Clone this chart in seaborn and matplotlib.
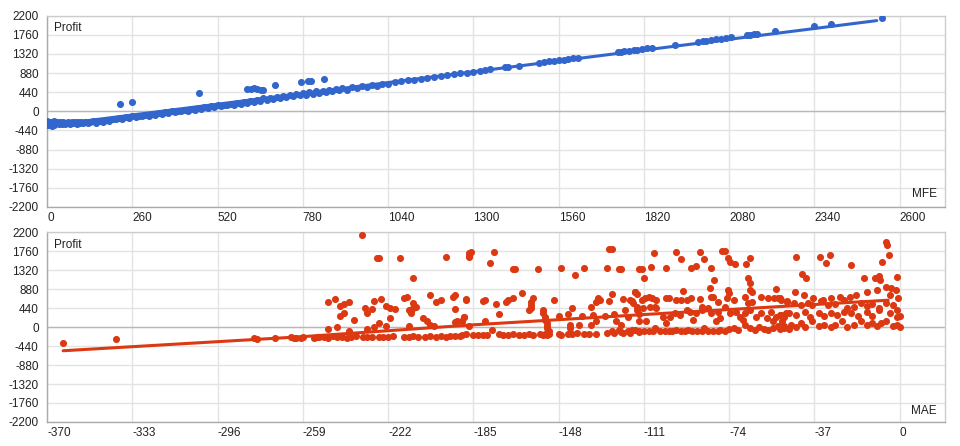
import numpy as np
import pandas as pd
import matplotlib
matplotlib.use('Agg')
import matplotlib.pyplot as plt
import seaborn as sns

# ------------------------------------------------------------------
# data
# ------------------------------------------------------------------

# top panel: MFE vs Profit
mfe = [0, 0, 3, 5, 8, 10, 12, 15, 18, 20, 22, 25, 30, 35, 40, 45, 50, 55, 60, 65,
       70, 75, 80, 85, 90, 95, 100, 105, 110, 115, 120, 125, 130,
       140, 150, 160, 170, 180, 190, 200, 210, 220, 230, 240, 250, 260, 270, 280, 290,
       300, 310, 320, 330, 340, 350, 360, 370, 380, 390, 400, 410, 420, 430, 440, 450,
       460, 470, 480, 490, 500, 510, 520, 530, 540, 550, 560, 570, 580, 590, 600, 610,
       620, 630, 640, 650, 660, 670, 680, 690, 700, 710, 720, 730, 740, 750, 760, 770,
       780, 790, 800, 810, 820, 830, 840, 850, 860, 870, 880, 890, 900, 915, 930, 945,
       960, 975, 990, 1005, 1020, 1040, 1060, 1080, 1100, 1120, 1140, 1160, 1180, 1200,
       1220, 1240, 1260, 1280, 1300,
       1320, 1335, 1350, 1395, 1405, 1440, 1500, 1515, 1530, 1545, 1560, 1575, 1590,
       1605, 1620, 1740, 1750, 1760, 1775, 1790, 1800, 1815, 1830, 1845, 1915, 1985,
       2000, 2010, 2025, 2040, 2055, 2070, 2085, 2135, 2145, 2155, 2165, 2220, 2340,
       2390, 2545,
       223, 260, 464, 611, 621, 631, 641, 652, 658, 695, 774, 795, 805, 845]
mfe_profit = [-230, -310, -265, -325, -240, -300, -255, -340, -285, -235, -305, -260, -245,
              -295, -255, -285, -245, -290, -260, -250, -290, -255, -280, -250, -285, -255,
              -275, -245, -280, -255, -250, -278, -252,
              -235, -265, -215, -250, -190, -220, -180, -185, -160, -175, -140, -150, -120,
              -140, -100, -115, -85, -100, -65, -85, -45, -60, -25, -40, -5, -20, 15, -5, 35,
              15, 55, 35, 75, 55, 95, 75, 115, 95, 135, 115, 155, 135, 175, 155, 195, 175,
              215, 190, 235, 215, 262, 245, 295, 265, 315, 285, 335, 305, 355, 325, 375,
              345, 395, 365, 415, 385, 435, 405, 455, 425, 475, 445, 495, 465, 515, 485,
              535, 500, 550, 525, 570, 560, 600, 590, 630, 630, 670, 690, 710, 730, 750,
              770, 790, 810, 830, 850, 870, 890, 910,
              935, 950, 965, 1010, 1020, 1050, 1115, 1130, 1145, 1160, 1175, 1190, 1200,
              1220, 1235, 1355, 1365, 1375, 1390, 1405, 1415, 1430, 1445, 1460, 1530, 1600,
              1615, 1625, 1640, 1655, 1670, 1685, 1700, 1750, 1760, 1770, 1780, 1845, 1960,
              2010, 2150,
              166, 203, 419, 515, 520, 525, 510, 495, 490, 594, 673, 696, 696, 749]
mfe_trend = [0, 2530]
mfe_trend_profit = [-334, 2085]

# bottom panel: MAE vs Profit
mae = [-363, -340, -280, -279, -271, -263, -260, -254, -252,
       # upper / middle part, left
       -233.5, -227, -226, -217, -211, -197, -187, -187,
       -248, -245, -243, -241, -239, -243, -241, -237, -248, -244, -239,
       -232, -231, -229, -228, -225, -223, -221, -219, -221, -226, -228, -231, -223,
       -215, -214, -213, -211, -211, -210, -212, -212, -207, -205, -213, -204, -204,
       -202, -201, -199, -194, -193, -193, -193, -192, -190, -189, -188, -187,
       # lower band, left
       -264, -262, -259, -253, -250, -248, -246, -244, -242, -240, -238, -236, -233,
       -231, -229, -226, -224, -222, -220, -215, -213, -211, -209, -206, -204, -201,
       -199, -197, -195, -193, -191,
       # upper, centre-left
       -186, -187, -176, -178, -168, -167, -157, -147, -141, -137, -127, -126, -125,
       -122, -121, -113,
       -188, -181, -180, -175, -174, -189, -190, -180, -171, -170, -168, -164, -161,
       -160, -160, -159, -160, -155, -155, -154, -154, -153, -153, -153, -152, -150,
       -148, -144, -143, -142, -138, -139, -143, -134, -133, -132, -131, -131, -130,
       -134, -132, -128, -126, -125, -124, -123, -121, -120, -119, -118, -116, -115,
       -114, -113, -113,
       # lower band, centre-left
       -190, -188, -185, -183, -181, -179, -177, -174, -172, -170, -168, -165, -163,
       -161, -159, -156, -155, -154, -153, -152, -148, -147, -144, -142, -140, -137,
       -135, -132, -127, -125, -124, -122, -121, -120, -118, -117, -115, -113,
       # upper, centre-right
       -106.6, -97, -95, -86.8, -85, -77, -76, -74.5, -73.5, -71.6, -66.8, -65, -112,
       -108, -111, -101.6, -90.7, -88.5, -82, -80.6, -65.8, -64.8, -65, -64, -82.4,
       -81.7, -74.5, -74, -94, -115, -114, -117, -115.7, -112, -110.6, -109, -107.7,
       -106.3, -105.6, -101.5, -100, -97, -94.7, -92.5, -90.4, -86.8, -86, -81, -79,
       -75, -72, -67, -65.8, -64.3, -60, -57, -54.7, -53.5, -52.8, -51.3, -49,
       -114.2, -111.3, -108.5, -105.6, -102.7, -99.8, -97.6, -95.4, -92.5, -91.1,
       -88.2, -86, -83.1, -81.7, -78.8, -78.1, -75.9, -73.8, -70.9, -69.4, -67.3,
       -65.1, -62.2, -60, -57.8, -55.7, -53.5, -51.3, -49.2,
       -110, -101.3, -89.7, -79.5, -68, -55,
       # lower band, centre-right
       -116, -113, -111, -109, -107, -106, -104, -102, -100, -99, -97, -95, -93, -92,
       -90, -88, -86, -85, -83, -81, -79, -78, -76, -74, -72, -70, -67, -65, -63, -61,
       -59, -57, -55, -53, -52, -50, -48,
       # right end
       -52, -49, -46, -43, -40, -38, -34, -31, -28, -24, -23, -20, -17, -14, -12, -9,
       -6, -3, -1,
       -52, -50, -48, -45, -41, -39, -35, -33, -30, -27, -24, -21, -18, -14, -12, -9,
       -4, -1, 0,
       -51, -50, -47, -45, -43, -41, -38, -35, -33, -30, -28, -25, -23, -20, -17, -14,
       -12, -10, -8, -6, -3, -1, 0,
       -45.6, -41.6, -37.6, -33.3, -29.6, -26, -21.7, -18.8, -14.2, -9.8, -4.3, -0.7,
       -5.8, -5.5, -4.8, -7.5, -45, -34.7, -30.4, -31.8, -21, -42.6, -40.5, -15.5,
       -10.8, -9, -8.4, -1.2, -5.8, -3.6, -1.7]
mae_profit = [-363, -278, -248, -285, -262, -262, -262, -262, -240,
              2137, 1613, 1613, 1613, 1134, 1636, 1713, 1636,
              594, 648, 502, 548, 594, 262, 324, 169, -39, -7, -86,
              440, 324, 424, 609, 655, 502, 440, 424, 208, 93, 0, -39, 16,
              671, 710, 401, 440, 556, 479, 324, 363, 208, 131, 16, 748, 54,
              16, 579, 633, 710, 748, 417, 116, 131, 146, 224, 633, 16,
              -230, -250, -225, -240, -225, -250, -215, -235, -220, -245, -225, -215, -230,
              -220, -240, -220, -225, -235, -215, -225, -240, -215, -225, -230, -210, -225,
              -215, -225, -205, -215, -200,
              1752, 1650, 1752, 1497, 1350, 1350, 1350, 1366, 1204, 1382, 1382, 1812, 1805,
              1343, 1343, 1343,
              648, 609, 633, 532, 301, 224, 146, 146, 579, 633, 671, 787, 401,
              517, 594, 671, 440, 401, 324, 247, 170, 93, 16, -23, -100, 633,
              270, 301, 54, 440, 270, 54, -23, 479, 285, 579, 633, 687, 633,
              54, 131, 270, 609, 764, 301, 131, 54, 655, 401, 247, 609, 826,
              479, 301, 131,
              -185, -170, -180, -185, -175, -180, -65, -165, -175, -180, -170, -180, -175,
              -170, -180, -165, -180, -170, -185, -160, -165, -175, -150, -160, -145, -155,
              -150, -160, -145, -80, -130, -60, -110, -140, -90, -130, -70, -120,
              1729, 1736, 1574, 1752, 1581, 1767, 1767, 1597, 1520, 1458, 1458, 1613, 1350,
              1404, 1134, 1366, 1366, 1428, 1382, 1095, 1134, 1018, 864, 810, 903,
              710, 864, 787, 849, 826, 764, 633, 556, 633, 671, 710, 687,
              479, 633, 687, 687, 633, 633, 633, 687, 648, 456, 710, 579,
              671, 633, 710, 556, 594, 710, 671, 671, 887, 671, 633, 594,
              401, 440, 479, 440, 247, 247, 324, 285, 401, 363,
              324, 401, 440, 324, 363, 208, 479, 324, 363, 247, 324,
              401, 247, 324, 208, 363, 247, 285, 324,
              131, 93, 170, 131, 170, 131,
              -60, -95, -100, -90, -100, -30, -100, -95, -85, -100, -55, -100, -90, -60,
              -100, -95, -100, -20, -90, -100, -95, -60, -100, -50, -15, -75, 40, -30, -60, 10,
              -40, -55, -20, 30, -50, -10, -40,
              671, 610, 556, 517, 556, 517, 610, 517, 532, 633, 440, 479, 556, 502, 532, 440,
              556, 517, 401,
              285, 247, 324, 285, 363, 247, 324, 270, 324, 285, 363, 324, 270, 363, 270, 401,
              324, 247, 270,
              131, 16, 54, -7, 93, -7, 131, 16, 54, -7, 39, 131, -7, 54, 131, 39,
              93, 16, 93, 131, 16, 54, -7,
              826, 748, 687, 633, 671, 710, 710, 748, 826, 864, 748, 671,
              1968, 1905, 1674, 1504, 1620, 1636, 1674, 1497, 1443, 1227, 1134, 1134,
              1134, 1188, 1095, 1157, 942, 903, 864]
mae_trend = [-363, -260, -185, -104, -5]
mae_trend_profit = [-548, -224, 54, 315, 625]

profit_ticks = [-2200, -1760, -1320, -880, -440, 0, 440, 880, 1320, 1760, 2200]
mfe_ticks = [0, 260, 520, 780, 1040, 1300, 1560, 1820, 2080, 2340, 2600]
mae_ticks = [-370, -333, -296, -259, -222, -185, -148, -111, -74, -37, 0]

BLUE = '#3366cc'
RED = '#dc3912'

# ------------------------------------------------------------------
# figure
# ------------------------------------------------------------------
sns.set_style('white')
plt.rcParams['font.family'] = ['Liberation Sans', 'DejaVu Sans']

fig = plt.figure(figsize=(9.6, 4.46), dpi=100)
ax_top = fig.add_axes([0.049, 0.536, 0.935, 0.429])
ax_bot = fig.add_axes([0.049, 0.054, 0.935, 0.425])

top_df = pd.DataFrame({'MFE': mfe, 'Profit': mfe_profit})
bot_df = pd.DataFrame({'MAE': mae, 'Profit': mae_profit})

sns.scatterplot(data=top_df, x='MFE', y='Profit', ax=ax_top, color=BLUE,
                s=26, linewidth=0, zorder=3)
sns.lineplot(x=mfe_trend, y=mfe_trend_profit, ax=ax_top, color=BLUE,
             linewidth=2.2, zorder=4)

sns.scatterplot(data=bot_df, x='MAE', y='Profit', ax=ax_bot, color=RED,
                s=26, linewidth=0, zorder=3)
sns.lineplot(x=mae_trend, y=mae_trend_profit, ax=ax_bot, color=RED,
             linewidth=2.2, zorder=4)

panels = [(ax_top, mfe_ticks, (0, 2737), 'MFE', 0.037),
          (ax_bot, mae_ticks, (-370, 19.5), 'MAE', 0.026)]

for ax, xticks, xlim, xname, ypos in panels:
    ax.set_xlim(*xlim)
    ax.set_ylim(-2200, 2200)
    ax.set_xticks(xticks)
    ax.set_xticklabels([str(t) for t in xticks])
    ax.set_yticks(profit_ticks)
    ax.set_yticklabels([str(t) for t in profit_ticks])
    for lbl in ax.get_xticklabels():
        lbl.set_horizontalalignment('left')
    ax.tick_params(axis='both', length=0, labelsize=8.5, colors='#222222')
    ax.tick_params(axis='x', pad=3.5)
    ax.tick_params(axis='y', pad=6)
    ax.grid(True, color='#e3e3e3', linewidth=1)
    ax.set_axisbelow(True)
    ax.axhline(0, color='#b8b8b8', linewidth=1, zorder=1)
    for side in ['top', 'right']:
        ax.spines[side].set_color('#cccccc')
    for side in ['left', 'bottom']:
        ax.spines[side].set_color('#aaaaaa')
    for sp in ax.spines.values():
        sp.set_linewidth(1)
    ax.set_xlabel('')
    ax.set_ylabel('')
    ax.text(0.008, 0.965, 'Profit', transform=ax.transAxes, ha='left', va='top',
            fontsize=8.5, color='#222222')
    ax.text(0.991, ypos, xname, transform=ax.transAxes, ha='right', va='bottom',
            fontsize=8.5, color='#222222')

fig.savefig('out.png', dpi=100)
